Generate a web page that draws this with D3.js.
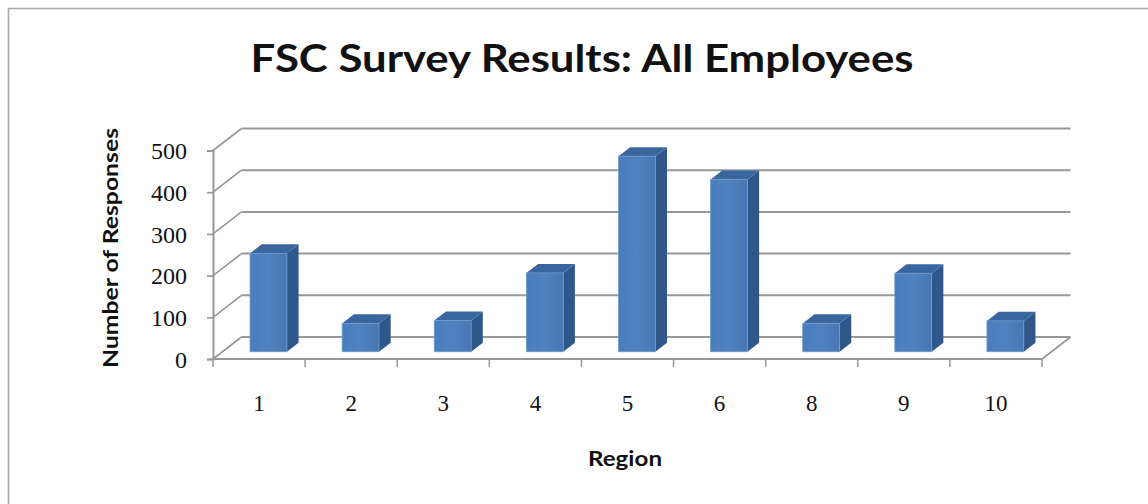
<!DOCTYPE html>
<html>
<head>
<meta charset="utf-8">
<script src="https://cdn.jsdelivr.net/npm/d3@7"></script>
<style>
  html, body { margin: 0; padding: 0; background: #fff; }
  svg { display: block; }
</style>
</head>
<body>
<svg id="chart" width="1148" height="504"></svg>
<script>
// ---- data ----
const regions = ["1", "2", "3", "4", "5", "6", "8", "9", "10"];
const responses = [236, 68, 75, 189, 469, 413, 68, 188, 74];
const yTicks = [0, 100, 200, 300, 400, 500];
const titleText = "FSC Survey Results: All Employees";
const yTitle = "Number of Responses";
const xTitle = "Region";

// ---- layout ----
const W = 1148, H = 504;
const plot = { left: 213, right: 1042, bottom: 359, top: 150.5 };
const wallDX = 28.5, wallDY = -22;      // depth of the 3D walls
const barF0 = 0.33, barF1 = 0.74;       // bar front/back depth fractions

const svg = d3.select("#chart");

// border (top & left only, as in the picture)
svg.append("line").attr("x1", 8).attr("y1", 8.5).attr("x2", W).attr("y2", 8.5)
  .attr("stroke", "#a8a8a8").attr("stroke-width", 1.6);
svg.append("line").attr("x1", 8.5).attr("y1", 8).attr("x2", 8.5).attr("y2", H)
  .attr("stroke", "#a8a8a8").attr("stroke-width", 1.6);

const x = d3.scaleBand().domain(regions)
  .range([plot.left, plot.right]).paddingInner(0.6).paddingOuter(0.3);
const y = d3.scaleLinear().domain([0, 500]).range([plot.bottom, plot.top]);

const gridColor = "#989898";
const g = svg.append("g");

// back wall gridlines + side wall diagonals
yTicks.forEach(v => {
  const yy = y(v);
  g.append("line")
    .attr("x1", plot.left + wallDX).attr("y1", yy + wallDY)
    .attr("x2", plot.right + wallDX).attr("y2", yy + wallDY)
    .attr("stroke", gridColor).attr("stroke-width", 2);
  g.append("line")
    .attr("x1", plot.left).attr("y1", yy)
    .attr("x2", plot.left + wallDX).attr("y2", yy + wallDY)
    .attr("stroke", gridColor).attr("stroke-width", 1.7);
});

// floor
g.append("line")
  .attr("x1", plot.left).attr("y1", y(0))
  .attr("x2", plot.right).attr("y2", y(0))
  .attr("stroke", gridColor).attr("stroke-width", 2);
g.append("line")
  .attr("x1", plot.right).attr("y1", y(0))
  .attr("x2", plot.right + wallDX).attr("y2", y(0) + wallDY)
  .attr("stroke", gridColor).attr("stroke-width", 1.7);

// y axis (front)
const yAxis = d3.axisLeft(y).tickValues(yTicks).tickSize(6).tickPadding(20);
const yg = svg.append("g").attr("transform", `translate(${plot.left},0)`).call(yAxis);
yg.select(".domain").attr("stroke", gridColor).attr("stroke-width", 2);
yg.selectAll(".tick line").attr("stroke", gridColor).attr("stroke-width", 1.7);
yg.selectAll(".tick text")
  .attr("font-family", "'Liberation Serif', 'DejaVu Serif', serif")
  .attr("font-size", 24).attr("fill", "#111")
  .attr("dy", "0.34em");

// x axis ticks at category boundaries
const step = x.step();
const bounds = d3.range(regions.length + 1).map(i => plot.left + i * step);
svg.append("g").selectAll("line").data(bounds).join("line")
  .attr("x1", d => d).attr("x2", d => d)
  .attr("y1", y(0)).attr("y2", y(0) + 8)
  .attr("stroke", gridColor).attr("stroke-width", 1.5);

// x labels
svg.append("g").selectAll("text").data(regions).join("text")
  .attr("x", d => x(d) + x.bandwidth() / 2)
  .attr("y", 411)
  .attr("text-anchor", "middle")
  .attr("font-family", "'Liberation Serif', 'DejaVu Serif', serif")
  .attr("font-size", 23).attr("fill", "#111")
  .text(d => d);

// bars (3D)
const bw = x.bandwidth();
const fx0 = barF0 * wallDX, fy0 = barF0 * wallDY;
const ddx = (barF1 - barF0) * wallDX, ddy = (barF1 - barF0) * wallDY;
const bars = svg.append("g").selectAll("g").data(regions.map((r, i) => ({ r, v: responses[i] }))).join("g");

const defs = svg.append("defs");
const grad = defs.append("linearGradient").attr("id", "front").attr("x1", 0).attr("x2", 1).attr("y1", 0).attr("y2", 0);
grad.append("stop").attr("offset", "0%").attr("stop-color", "#4a7dbb");
grad.append("stop").attr("offset", "50%").attr("stop-color", "#4f82c0");
grad.append("stop").attr("offset", "100%").attr("stop-color", "#4677b3");

bars.each(function(d) {
  const sel = d3.select(this);
  const x0 = x(d.r) + fx0, x1 = x0 + bw;
  const yb = y(0) + fy0, yt = y(d.v) + fy0;
  // side face
  sel.append("path")
    .attr("d", `M${x1},${yb} L${x1 + ddx},${yb + ddy} L${x1 + ddx},${yt + ddy} L${x1},${yt} Z`)
    .attr("fill", "#2f5789");
  // top face
  sel.append("path")
    .attr("d", `M${x0},${yt} L${x0 + ddx},${yt + ddy} L${x1 + ddx},${yt + ddy} L${x1},${yt} Z`)
    .attr("fill", "#3a669f");
  // front face
  sel.append("rect")
    .attr("x", x0).attr("y", yt).attr("width", bw).attr("height", yb - yt)
    .attr("fill", "url(#front)")
    .attr("stroke", "#6f9bd0").attr("stroke-width", 0.8);
});

// title
svg.append("text")
  .attr("x", 582).attr("y", 72)
  .attr("text-anchor", "middle")
  .attr("font-family", "Lato, 'Open Sans', sans-serif")
  .attr("font-weight", "bold").attr("font-size", 38).attr("fill", "#111")
  .attr("textLength", 663).attr("lengthAdjust", "spacingAndGlyphs")
  .text(titleText);

// y title
svg.append("text")
  .attr("transform", "translate(118,248) rotate(-90)")
  .attr("text-anchor", "middle")
  .attr("font-family", "Lato, 'Open Sans', sans-serif")
  .attr("font-weight", "bold").attr("font-size", 20).attr("fill", "#111")
  .attr("textLength", 240).attr("lengthAdjust", "spacingAndGlyphs")
  .text(yTitle);

// x title
svg.append("text")
  .attr("x", 625).attr("y", 466)
  .attr("text-anchor", "middle")
  .attr("font-family", "Lato, 'Open Sans', sans-serif")
  .attr("font-weight", "bold").attr("font-size", 21).attr("fill", "#111")
  .attr("textLength", 74).attr("lengthAdjust", "spacingAndGlyphs")
  .text(xTitle);
</script>
</body>
</html>
